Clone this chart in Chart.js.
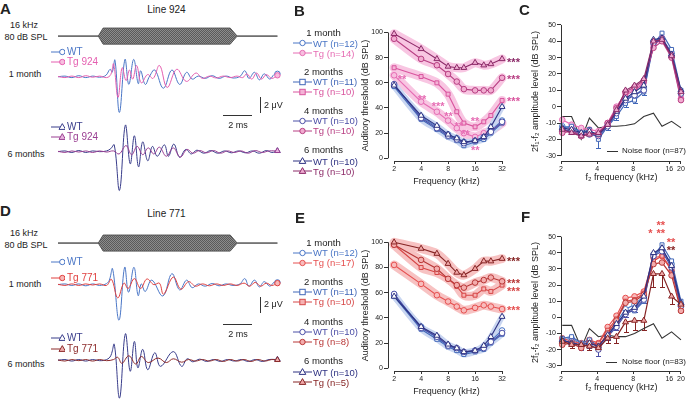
<!DOCTYPE html>
<html lang="en">
<head>
<meta charset="UTF-8">
<title>ABR and DPOAE, lines 924 and 771</title>
<script src="https://cdn.jsdelivr.net/npm/chart.js@4"></script>
<style>
  html, body { margin: 0; padding: 0; background: #fff; }
  body { width: 687px; height: 405px; position: relative; overflow: hidden;
         font-family: "Liberation Sans", Arial, sans-serif; color: #222; }
  canvas { position: absolute; }
  .t { position: absolute; white-space: nowrap; }
  .bar { position: absolute; background: #333; }
</style>
</head>
<body>
<canvas id="waveA" width="237" height="190" style="left:53px;top:15px"></canvas>
<canvas id="waveD" width="237" height="183" style="left:53px;top:222px"></canvas>
<canvas id="thrB" width="175" height="167" style="left:360px;top:20px"></canvas>
<canvas id="thrE" width="175" height="167" style="left:360px;top:230px"></canvas>
<canvas id="dpC" width="157" height="168" style="left:530px;top:15px"></canvas>
<canvas id="dpF" width="157" height="180" style="left:530px;top:213px"></canvas>

<script>
// ---------- data ----------
// ABR waveforms at 16 kHz / 80 dB SPL: [time (ms), amplitude (uV)]
const stimEnvelope = [[0, 0], [2.9, 0], [3.25, 1], [12.4, 1], [12.9, 0], [15.8, 0]];

const wave924_wt1 = [[0,0],[0.5,0.1],[1.0,-0.1],[1.5,0.15],[2.0,-0.1],[2.5,0.1],[3.0,-0.05],[3.45,0.2],[3.75,1.0],[3.9,0.6],[4.1,2.2],[4.42,-4.7],[4.82,2.3],[5.1,-1.0],[5.45,2.3],[5.78,-0.9],[5.95,0.8],[6.28,-1.0],[6.6,0.1],[6.97,0.9],[7.59,-1.5],[8.2,0.9],[8.76,-1.0],[9.26,0.6],[9.66,-0.3],[10.1,0.1],[10.6,-0.2],[11.1,0.15],[11.6,-0.2],[12.1,0.1],[12.6,-0.15],[13.1,0.05],[13.45,0.8],[13.75,-0.2],[14.15,0.6],[14.5,-0.4],[14.85,0.4],[15.25,-0.3],[15.55,0.3],[15.8,0.4]];
const wave924_tg1 = [[0,0.05],[0.5,-0.1],[1.0,0.1],[1.5,-0.1],[2.0,0.15],[2.5,-0.05],[3.0,0.1],[3.5,-0.1],[3.8,0.3],[4.0,1.7],[4.32,-2.7],[4.62,1.2],[4.9,-0.5],[5.15,0.9],[5.38,-0.3],[5.66,1.5],[6.0,-0.8],[6.45,0.3],[6.85,-0.2],[7.31,1.5],[7.86,-1.4],[8.55,1.0],[9.24,-0.6],[9.93,0.5],[10.4,-0.2],[10.9,0.1],[11.4,-0.15],[11.9,0.1],[12.4,-0.1],[12.9,0.1],[13.3,-0.1],[13.6,0.4],[13.95,-0.3],[14.3,0.5],[14.65,-0.3],[15.0,0.3],[15.4,-0.2],[15.8,0.2]];
const wave924_wt6 = [[0,0],[0.5,0.1],[1.0,-0.1],[1.5,0.15],[2.0,-0.1],[2.5,0.1],[3.0,0],[3.5,0.1],[3.8,0.4],[4.05,0.9],[4.43,-5.1],[4.85,3.5],[5.2,-1.6],[5.5,2.1],[5.8,-2.0],[6.1,1.3],[6.46,-1.2],[6.8,0.7],[7.15,-0.6],[7.66,0.9],[7.95,-0.6],[8.34,1.0],[8.76,-0.75],[9.2,0.3],[9.6,-0.3],[10.0,0.2],[10.5,-0.2],[11.0,0.15],[11.5,-0.2],[12.0,0.1],[12.5,-0.15],[13.0,0.1],[13.5,-0.15],[14.0,0.1],[14.5,-0.2],[15.0,0.15],[15.4,-0.1],[15.8,0.1]];
const wave924_tg6 = [[0,0.05],[0.5,-0.1],[1.0,0.1],[1.5,-0.05],[2.0,0.1],[2.5,-0.1],[3.0,0.1],[3.5,-0.05],[4.0,0.1],[4.4,-0.3],[4.9,0.8],[5.3,-0.4],[5.7,0.7],[6.1,-0.4],[6.5,0.5],[6.9,-0.3],[7.3,0.6],[7.8,-0.6],[8.3,0.5],[8.8,-0.7],[9.3,0.3],[9.7,-0.2],[10.2,0.15],[10.7,-0.15],[11.2,0.15],[11.7,-0.2],[12.2,0.1],[12.7,-0.1],[13.2,0.1],[13.7,-0.2],[14.2,0.15],[14.7,-0.1],[15.2,0.1],[15.8,0.1]];

const wave771_wt1 = [[0,0],[0.5,0.1],[1.0,-0.1],[1.5,0.1],[2.0,-0.15],[2.5,0.1],[3.0,-0.1],[3.5,0.15],[3.7,0.6],[3.93,2.1],[4.39,-4.7],[4.8,2.3],[5.08,-1.0],[5.47,2.3],[5.77,-1.45],[6.0,0.1],[6.28,-0.9],[6.75,0.6],[7.55,-1.5],[8.2,1.45],[8.76,-0.7],[9.26,0.6],[9.66,-0.4],[10.1,0.1],[10.6,-0.2],[11.1,0.15],[11.6,-0.15],[12.1,0.1],[12.6,-0.1],[13.1,0.1],[13.45,0.8],[13.75,-0.2],[14.15,0.6],[14.5,-0.3],[14.85,0.4],[15.25,-0.2],[15.55,0.3],[15.8,0.3]];
const wave771_tg1 = [[0,0.05],[0.5,-0.1],[1.0,0.1],[1.5,-0.1],[2.0,0.1],[2.5,-0.05],[3.0,0.1],[3.5,-0.1],[3.85,0.7],[4.3,-1.75],[4.75,0.2],[5.05,-0.5],[5.5,0.8],[5.95,-0.5],[6.4,0.75],[6.9,0],[7.3,0.2],[7.6,-1.25],[8.3,1.0],[8.85,-0.6],[9.4,0.4],[9.9,-0.2],[10.4,0.1],[10.9,-0.15],[11.4,0.1],[11.9,-0.1],[12.4,0.1],[12.9,-0.1],[13.4,0.2],[13.8,-0.2],[14.2,0.3],[14.6,-0.2],[15.0,0.2],[15.4,-0.1],[15.8,0.2]];
const wave771_wt6 = [[0,0],[0.5,0.1],[1.0,-0.1],[1.5,0.1],[2.0,-0.1],[2.5,0.1],[3.0,-0.05],[3.5,0.1],[3.8,0.6],[4.05,2.1],[4.43,-5.0],[4.85,3.5],[5.2,-1.45],[5.5,2.5],[5.75,-1.0],[6.1,1.45],[6.46,-1.25],[6.97,1.0],[7.38,-0.8],[8.3,1.15],[8.9,-0.8],[9.3,0.2],[9.7,-0.2],[10.2,0.15],[10.7,-0.15],[11.2,0.1],[11.7,-0.15],[12.2,0.1],[12.7,-0.1],[13.2,0.1],[13.7,-0.15],[14.2,0.1],[14.7,-0.15],[15.2,0.1],[15.8,0.1]];
const wave771_tg6 = [[0,0.05],[0.5,-0.1],[1.0,0.1],[1.5,-0.05],[2.0,0.1],[2.5,-0.1],[3.0,0.1],[3.5,-0.05],[4.0,0.1],[4.3,0.4],[4.6,-0.4],[5.1,0.6],[5.6,-0.5],[6.0,0.5],[6.5,-0.3],[7.2,0.3],[7.8,-0.3],[8.3,0.2],[8.9,-0.25],[9.4,0.1],[9.9,-0.1],[10.4,0.1],[10.9,-0.1],[11.4,0.1],[11.9,-0.15],[12.4,0.1],[12.9,-0.1],[13.4,0.1],[13.9,-0.15],[14.4,0.1],[14.9,-0.1],[15.4,0.1],[15.8,0.05]];

// ABR thresholds (dB SPL)
const abrFreqs = [2, 4, 6, 8, 10, 12, 16, 20, 24, 32];
const freqTicks = [2, 4, 8, 16, 32];
const thrTicks = [0, 20, 40, 60, 80, 100];

const thr924_wt1 = [58, 33, 25, 19, 16, 13, 14, 16, 22, 30];
const thr924_tg1 = [66, 45, 37, 30, 24, 20, 17, 20, 22, 28];
const thr924_wt2 = [57, 31, 23, 17, 14, 10, 13, 15, 20, 28];
const thr924_tg2 = [72, 65, 60, 51, 37, 28, 25, 29, 34, 46];
const thr924_wt4 = [59, 32, 24, 18, 15, 12, 14, 17, 21, 29];
const thr924_tg4 = [95, 79, 74, 67, 61, 55, 54, 54, 54, 64];
const thr924_wt6 = [58, 34, 26, 19, 16, 13, 14, 17, 25, 41];
const thr924_tg6 = [99, 87, 79, 73, 72, 72, 76, 74, 75, 79];

const thr771_wt1 = [58, 33, 24, 18, 15, 12, 14, 17, 22, 30];
const thr771_tg1 = [82, 67, 58, 53, 49, 46, 48, 50, 49, 47];
const thr771_wt2 = [57, 31, 23, 17, 14, 11, 13, 15, 20, 27];
const thr771_tg2 = [98, 80, 76, 71, 65, 58, 58, 63, 61, 66];
const thr771_wt4 = [59, 32, 25, 18, 16, 13, 14, 16, 21, 28];
const thr771_tg4 = [98, 86, 79, 71, 66, 64, 68, 70, 72, 69];
const thr771_wt6 = [57, 33, 26, 19, 16, 13, 14, 18, 25, 41];
const thr771_tg6 = [100, 95, 91, 83, 76, 74, 79, 85, 85, 87];

// DPOAE 2f1-f2 levels (dB SPL)
const dpFreqs = [2.05, 2.45, 2.95, 3.45, 4.1, 4.9, 5.8, 6.9, 8.2, 9.8, 11.8, 13.9, 16.7, 20];
const dpFreqTicks = [2, 4, 8, 16, 20];
const dpTicks = [-30, -20, -10, 0, 10, 20, 30, 40, 50];

const dp924_wt1 = [-12, -13, -15, -16, -17, -11, -3, 5, 7, 11, 40, 42, 33, 9];
const dp924_tg1 = [-8, -11, -13, -14, -15, -10, 0, 8, 11, 15, 38, 41, 31, 5];
const dp924_wt2 = [-13, -12, -16, -14, -20, -12, -6, 2, 4, 9, 38, 45, 35, 10];
const dp924_tg2 = [-15, -14, -17, -15, -18, -10, -2, 7, 10, 14, 37, 42, 32, 7];
const dp924_wt4 = [-14, -15, -17, -17, -18, -12, -4, 4, 7, 10, 39, 41, 31, 8];
const dp924_tg4 = [-16, -15, -18, -16, -17, -10, -1, 9, 12, 16, 36, 40, 30, 4];
const dp924_wt6 = [-13, -14, -16, -15, -17, -11, -3, 5, 9, 13, 41, 42, 32, 10];
const dp924_tg6 = [-14, -16, -18, -17, -16, -11, -2, 10, 13, 17, 40, 41, 31, 9];
const noise924 = [-6, -6, -20, -7, -13, -12, -12, -11.5, -10.5, -6, -4, -12, -9, -13];
const dp924_wt2Sem = [2, 2, 2, 2, 5, 2, 2, 2, 2, 2, 2, 2, 2, 2];

const dp771_wt1 = [-14, -13, -17, -15, -17, -12, -3, 5, 8, 13, 39, 42, 33, 8];
const dp771_tg1 = [-13, -15, -16, -14, -16, -6, 1, 12, 13, 16, 37, 38, 29, 7];
const dp771_wt2 = [-13, -12, -16, -14, -18, -11, -5, 3, 4, 10, 38, 45, 35, 10];
const dp771_tg2 = [-16, -15, -18, -17, -16, -8, -1, 10, 11, 15, 35, 38, 30, 5];
const dp771_wt4 = [-15, -15, -18, -17, -20, -12, -6, 2, 5, 11, 38, 41, 31, 7];
const dp771_tg4 = [-17, -16, -19, -16, -18, -10, -2, 9, 10, 14, 33, 34, 26, 4];
const dp771_wt6 = [-14, -16, -17, -16, -18, -11, -4, 3, 6, 13, 40, 43, 32, 9];
const dp771_tg6 = [-15, -17, -17, -18, -19, -13, -12, -3, -2, -2, 27, 27, 13, 8];
const noise771 = [-5, -5, -19, -7, -12, -11, -12, -12, -10, -7, -4, -13, -9, -14];
const dp771_tg6Sem = [2, 2, 2, 2, 2, 3, 4, 6, 6, 6, 8, 8, 5, 5];
const dp771_wt4Sem = [2, 2, 2, 2, 4, 2, 2, 2, 2, 2, 2, 2, 2, 3];

// legend labels and significance marks
const ages = ['1 month', '2 months', '4 months', '6 months'];
const legend924 = ['WT (n=12)', 'Tg (n=14)', 'WT (n=11)', 'Tg (n=10)', 'WT (n=10)', 'Tg (n=10)', 'WT (n=10)', 'Tg (n=10)'];
const legend771 = ['WT (n=12)', 'Tg (n=17)', 'WT (n=11)', 'Tg (n=10)', 'WT (n=10)', 'Tg (n=8)', 'WT (n=10)', 'Tg (n=5)'];
const stars924 = [[2.45, 65, '**'], [4.1, 49, '**'], [6.2, 43, '***'], [8.1, 35, '**'], [10.5, 27, '**'], [12.5, 21, '**'], [16, 31, '**'], [16.1, 8, '**']];
const endStars924 = [[78, 7], [64.6, 5], [47, 3]];   // [dB, series]
const endStars771 = [[86.7, 7], [69.3, 5], [63, 3], [47.9, 1]];
const starsF = [[13.6, 58.5, '**', 1], [11.1, 53.5, '*', 1], [13.6, 53.5, '**', 1], [16.5, 48, '**', 1], [16.5, 43, '**', 7]];

// ---------- styles ----------
const FONT = '"Liberation Sans", Arial, sans-serif';
Chart.defaults.font.family = FONT;
Chart.defaults.color = '#222';
Chart.defaults.animation = false;

const wtStyle = [
  { c: '#4a76c6', m: 'circle' }, { c: '#4167b8', m: 'rect' },
  { c: '#4b4ea6', m: 'circle' }, { c: '#2e3282', m: 'triangle' }
];
const tg924Style = [
  { c: '#e66db4', f: '#f7bfdf', m: 'circle' }, { c: '#d9549e', f: '#f4b3d6', m: 'rect' },
  { c: '#b83f83', f: '#f1acd0', m: 'circle' }, { c: '#8c2a68', f: '#eeaad0', m: 'triangle' }
];
const tg771Style = [
  { c: '#e65050', f: '#f8bcbc', m: 'circle' }, { c: '#d64646', f: '#f6b2b2', m: 'rect' },
  { c: '#b83636', f: '#f3acac', m: 'circle' }, { c: '#862424', f: '#f1a8a8', m: 'triangle' }
];
function interleave(tg) {
  const out = [];
  for (let g = 0; g < 4; g++) { out.push(wtStyle[g], tg[g]); }
  return out;
}
const styles924 = interleave(tg924Style);
const styles771 = interleave(tg771Style);

// ---------- helpers ----------
function addText(html, x, y, o = {}) {
  const d = document.createElement('div');
  const size = o.size || 10;
  d.className = 't';
  d.style.fontSize = size + 'px';
  d.style.lineHeight = size + 'px';
  d.style.left = x + 'px';
  d.style.top = (y - size / 2) + 'px';
  if (o.align === 'center') d.style.transform = 'translateX(-50%)';
  if (o.bold) d.style.fontWeight = 'bold';
  if (o.color) d.style.color = o.color;
  if (o.flex) { d.style.display = 'flex'; d.style.alignItems = 'center'; d.style.gap = (o.gap || 1) + 'px'; }
  d.innerHTML = html;
  document.body.appendChild(d);
}
function addBar(x, y, w, h) {
  const d = document.createElement('div');
  d.className = 'bar';
  Object.assign(d.style, { left: x + 'px', top: y + 'px', width: w + 'px', height: h + 'px' });
  document.body.appendChild(d);
}
function svgMarker(m, x, y, stroke, fill) {
  if (m === 'circle') return `<circle cx="${x}" cy="${y}" r="2.7" fill="${fill}" stroke="${stroke}"/>`;
  if (m === 'rect') return `<rect x="${x - 2.7}" y="${y - 2.7}" width="5.4" height="5.4" fill="${fill}" stroke="${stroke}"/>`;
  return `<polygon points="${x},${y - 3.4} ${x + 3.3},${y + 2.4} ${x - 3.3},${y + 2.4}" fill="${fill}" stroke="${stroke}"/>`;
}
function swatch(w, mx, st, lineEnd) {
  return `<svg width="${w}" height="10" style="display:block">` +
    `<line x1="0" y1="5" x2="${lineEnd || w}" y2="5" stroke="${st.c}" stroke-width="1"/>` +
    svgMarker(st.m, mx, 5, st.c, st.f || '#fff') + '</svg>';
}

// offset axis lines, error bars and significance stars (one plugin per chart)
function makeMarks(extra) {
  return {
    id: 'marks',
    beforeDatasetsDraw(chart) {
      const { ctx, scales: { x, y } } = chart;
      ctx.save();
      ctx.lineWidth = 1;
      chart.data.datasets.forEach(ds => {
        if (!ds.errs) return;
        ctx.strokeStyle = ds.borderColor;
        ds.data.forEach((p, k) => {
          const e = ds.errs[k];
          if (!e) return;
          const px = Math.round(x.getPixelForValue(p.x)) + 0.5;
          const y1 = Math.round(y.getPixelForValue(p.y - e)) + 0.5;
          ctx.beginPath();
          ctx.moveTo(px, y.getPixelForValue(p.y));
          ctx.lineTo(px, y1);
          ctx.moveTo(px - 2.5, y1);
          ctx.lineTo(px + 2.5, y1);
          ctx.stroke();
        });
      });
      ctx.restore();
    },
    afterDraw(chart) {
      const { ctx, chartArea: a, scales: { x, y } } = chart;
      const xt = x.ticks, yt = y.ticks;
      ctx.save();
      ctx.strokeStyle = '#333';
      ctx.lineWidth = 1;
      const lx = Math.round(a.left) + 0.5, by = Math.round(a.bottom) + 0.5;
      ctx.beginPath();
      ctx.moveTo(lx, y.getPixelForValue(yt[0].value));
      ctx.lineTo(lx, y.getPixelForValue(yt[yt.length - 1].value));
      ctx.moveTo(x.getPixelForValue(xt[0].value), by);
      ctx.lineTo(x.getPixelForValue(xt[xt.length - 1].value), by);
      ctx.stroke();
      ctx.font = 'bold 11px ' + FONT;
      ctx.textBaseline = 'alphabetic';
      ctx.textAlign = 'center';
      (extra.stars || []).forEach(([f, v, t, c]) => {
        ctx.fillStyle = c;
        ctx.fillText(t, x.getPixelForValue(f), y.getPixelForValue(v) + 6);
      });
      ctx.textAlign = 'left';
      (extra.endStars || []).forEach(([v, c]) => {
        ctx.fillStyle = c;
        ctx.fillText('***', x.getPixelForValue(extra.endAt) + 5, y.getPixelForValue(v) + 6);
      });
      ctx.restore();
    }
  };
}

function axisOpts(o) {
  return {
    type: o.type || 'linear', min: o.min, max: o.max,
    afterBuildTicks: s => { s.ticks = o.ticks.map(v => ({ value: v })); },
    ticks: { callback: v => String(v), font: { size: 7 }, padding: 1, autoSkip: false, maxRotation: 0, color: '#222' },
    grid: { display: true, drawOnChartArea: false, drawTicks: true, tickLength: o.tick, color: '#333' },
    border: { display: false },
    title: { display: true, text: o.title, font: { size: 9 }, padding: 0, color: '#222' },
    afterFit: s => {
      if (o.width) s.width = o.width;
      if (o.height) s.height = o.height;
      s.paddingLeft = s.paddingRight = s.paddingTop = s.paddingBottom = 0;
    }
  };
}
function baseOptions(padTop, padRight, scales) {
  return {
    responsive: false, devicePixelRatio: 1, animation: false, events: [],
    layout: { padding: { top: padTop, right: padRight, left: 0, bottom: 0 } },
    plugins: { legend: { display: false }, tooltip: { enabled: false } },
    scales
  };
}

// ---------- waveform panels (A, D) ----------
function waveChart(id, offsets, traces) {
  const cv = document.getElementById(id);
  const pc = document.createElement('canvas');
  pc.width = 2; pc.height = 2;
  const p = pc.getContext('2d');
  p.fillStyle = '#5a5a5a'; p.fillRect(0, 0, 2, 2);
  p.fillStyle = '#8c8c8c'; p.fillRect(0, 0, 1, 1); p.fillRect(1, 1, 1, 1);
  const pattern = cv.getContext('2d').createPattern(pc, 'repeat');

  const amp = 1.06;
  const datasets = [
    { data: stimEnvelope.map(([t, a]) => ({ x: t, y: offsets.stim + a * amp })), borderColor: '#555', borderWidth: 1, pointRadius: 0, tension: 0 },
    { data: stimEnvelope.map(([t, a]) => ({ x: t, y: offsets.stim - a * amp })), borderColor: '#555', borderWidth: 1, pointRadius: 0, tension: 0, fill: '-1', backgroundColor: pattern }
  ];
  traces.forEach(tr => {
    const last = tr.data.length - 1;
    datasets.push({
      data: tr.data.map(([t, v]) => ({ x: t, y: offsets[tr.row] + v })),
      borderColor: tr.st.c, borderWidth: 1, tension: 0.4, clip: false,
      pointStyle: tr.st.m, pointRadius: c => (c.dataIndex === last ? (tr.st.m === 'triangle' ? 3.2 : 2.7) : 0),
      pointBackgroundColor: tr.st.f || '#fff', pointBorderColor: tr.st.c, pointBorderWidth: 1
    });
  });
  new Chart(cv, {
    type: 'line',
    data: { datasets },
    options: {
      responsive: false, devicePixelRatio: 1, animation: false, events: [],
      layout: { padding: 0 },
      plugins: { legend: { display: false }, tooltip: { enabled: false } },
      scales: {
        x: { type: 'linear', display: false, min: 0, max: cv.width / 14.5 },
        y: { type: 'linear', display: false, min: -cv.height / 8, max: 0 }
      }
    }
  });
}

const waveA = {
  wt1: { c: '#4a76c6', m: 'circle' }, tg1: { c: '#e55fb0', f: '#f7bfdf', m: 'circle' },
  wt6: { c: '#383c8a', m: 'triangle' }, tg6: { c: '#9a3f92', f: '#e9b6e0', m: 'triangle' }
};
const waveD = {
  wt1: { c: '#4a76c6', m: 'circle' }, tg1: { c: '#e0403f', f: '#f7b8b8', m: 'circle' },
  wt6: { c: '#383c8a', m: 'triangle' }, tg6: { c: '#8c2b2b', f: '#efb0b0', m: 'triangle' }
};

waveChart('waveA', { stim: -2.125, m1: -7.5, m6: -17.375 }, [
  { data: wave924_tg6, row: 'm6', st: waveA.tg6 },
  { data: wave924_wt6, row: 'm6', st: waveA.wt6 },
  { data: wave924_tg1, row: 'm1', st: waveA.tg1 },
  { data: wave924_wt1, row: 'm1', st: waveA.wt1 }
]);
waveChart('waveD', { stim: -2.125, m1: -7.625, m6: -17.625 }, [
  { data: wave771_tg6, row: 'm6', st: waveD.tg6 },
  { data: wave771_wt6, row: 'm6', st: waveD.wt6 },
  { data: wave771_tg1, row: 'm1', st: waveD.tg1 },
  { data: wave771_wt1, row: 'm1', st: waveD.wt1 }
]);

function waveLabels(dy, line, st, tgName) {
  addText('<b>' + (dy ? 'D' : 'A') + '</b>', 0, 8.5 + dy * 0.97, { size: 15 });
  addText(line, 166.5, 10 + dy * 0.98, { size: 10, align: 'center' });
  addText('16 kHz', 24, 25 + dy, { size: 9, align: 'center' });
  addText('80 dB SPL', 26, 37 + dy, { size: 9, align: 'center' });
  addText('1 month', 25, 74.5 + dy * 1.01, { size: 9, align: 'center' });
  addText('6 months', 26, 154 + dy * 1.01, { size: 9, align: 'center' });
  addText(swatch(14, 11.3, st.wt1, 11) + `<span style="color:${st.wt1.c}">WT</span>`, 51, 51.7 + dy * 1.01, { size: 10, flex: true, gap: 2 });
  addText(swatch(14, 11.3, st.tg1, 11) + `<span style="color:${st.tg1.c}">${tgName}</span>`, 51, 61.9 + dy * 1.04, { size: 10, flex: true, gap: 2 });
  addText(swatch(14, 11.3, st.wt6, 11) + `<span style="color:${st.wt6.c}">WT</span>`, 51, 126.7 + dy * 1.015, { size: 10, flex: true, gap: 2 });
  addText(swatch(14, 11.3, st.tg6, 11) + `<span style="color:${st.tg6.c}">${tgName}</span>`, 51, 136.7 + dy * 1.02, { size: 10, flex: true, gap: 2 });
  addText('2 ms', 238, 125 + dy * 1.005, { size: 9, align: 'center' });
  addText('2 μV', 264, 105 + dy * 0.96, { size: 9 });
}
waveLabels(0, 'Line 924', waveA, 'Tg 924');
waveLabels(208, 'Line 771', waveD, 'Tg 771');
addBar(223, 115, 29, 1); addBar(260, 97, 1, 16);
addBar(223, 324, 29, 1); addBar(260, 297, 1, 16);

// ---------- ABR threshold panels (B, E) ----------
function thresholdChart(id, series, styles, tgBand, yMin, yMax, stars, endStars) {
  const datasets = [];
  series.forEach((vals, i) => {
    const st = styles[i];
    const isTg = i % 2 === 1;
    const pts = abrFreqs.map((f, k) => ({ x: f, y: vals[k] }));
    datasets.push({ data: pts, borderColor: isTg ? tgBand : '#c9d6f1', borderWidth: isTg ? 9 : 6,
      pointRadius: 0, tension: 0.3, order: 30 - i, borderCapStyle: 'round', borderJoinStyle: 'round', clip: false });
    datasets.push({ data: pts, borderColor: st.c, borderWidth: 1.1, tension: 0, order: 10 - i, clip: false,
      pointStyle: st.m, pointRadius: st.m === 'triangle' ? 3.4 : 2.8,
      pointBackgroundColor: st.f || '#fff', pointBorderColor: st.c, pointBorderWidth: 1 });
  });
  new Chart(document.getElementById(id), {
    type: 'line',
    data: { datasets },
    options: baseOptions(10, 30, {
      x: axisOpts({ type: 'logarithmic', min: 1.71, max: 34.5, ticks: freqTicks, tick: 3, title: 'Frequency (kHz)', height: 26 }),
      y: axisOpts({ min: yMin, max: yMax, ticks: thrTicks, tick: 4, title: 'Auditory threshold (dB SPL)', width: 28 })
    }),
    plugins: [makeMarks({
      stars: stars.map(([f, v, t]) => [f, v, t, styles[1].c]),
      endStars: endStars.map(([v, s]) => [v, styles[s].c]),
      endAt: 32
    })]
  });
}
thresholdChart('thrB', [thr924_wt1, thr924_tg1, thr924_wt2, thr924_tg2, thr924_wt4, thr924_tg4, thr924_wt6, thr924_tg6],
  styles924, '#f8c6e2', -2.15, 102, stars924, endStars924);
thresholdChart('thrE', [thr771_wt1, thr771_tg1, thr771_wt2, thr771_tg2, thr771_wt4, thr771_tg4, thr771_wt6, thr771_tg6],
  styles771, '#f7c2c2', -2.14, 101.8, [], endStars771);

function thresholdLegend(tops, labels, styles) {
  ages.forEach((age, g) => {
    addText(age, 323.5, tops[g], { size: 9.5, align: 'center' });
    [0, 1].forEach(j => {
      const i = g * 2 + j, st = styles[i];
      addText(swatch(19, 9.5, st) + `<span style="color:${st.c}">${labels[i]}</span>`,
        293, tops[g] + 10 * (j + 1) + (g === 3 ? 1 : 0), { size: 9.5, flex: true });
    });
  });
}
thresholdLegend([33, 71.7, 110.7, 150], legend924, styles924);
thresholdLegend([242.7, 281.7, 321.7, 361], legend771, styles771);
addText('<b>B</b>', 294, 10, { size: 15 });
addText('<b>E</b>', 295, 217, { size: 15 });

// ---------- DPOAE panels (C, F) ----------
function dpChart(id, series, styles, noise, sems, padTop, yMin, yMax, stars) {
  const datasets = [{
    data: dpFreqs.map((f, k) => ({ x: f, y: noise[k] })),
    borderColor: '#333', borderWidth: 1.1, pointRadius: 0, tension: 0, order: 50
  }];
  series.forEach((vals, i) => {
    const st = styles[i];
    datasets.push({
      data: dpFreqs.map((f, k) => ({ x: f, y: vals[k] })),
      errs: sems[i], borderColor: st.c, borderWidth: 1.2, tension: 0, order: 10 - i, clip: false,
      pointStyle: st.m, pointRadius: st.m === 'triangle' ? 3.4 : 2.8,
      pointBackgroundColor: st.f || '#fff', pointBorderColor: st.c, pointBorderWidth: 1
    });
  });
  new Chart(document.getElementById(id), {
    type: 'line',
    data: { datasets },
    options: baseOptions(padTop, 3.4, {
      x: axisOpts({ type: 'logarithmic', min: 2, max: 20.4, ticks: dpFreqTicks, tick: 3, title: 'f\u2082 frequency (kHz)', height: 22 }),
      y: axisOpts({ min: yMin, max: yMax, ticks: dpTicks, tick: 4, title: '2f\u2081-f\u2082 amplitude level (dB SPL)', width: 31 })
    }),
    plugins: [makeMarks({ stars: stars.map(([f, v, t, s]) => [f, v, t, styles[s].c]) })]
  });
}
dpChart('dpC', [dp924_wt1, dp924_tg1, dp924_wt2, dp924_tg2, dp924_wt4, dp924_tg4, dp924_wt6, dp924_tg6],
  styles924, noise924, [null, null, dp924_wt2Sem, null, null, null, null, null], 7, -33.24, 51.8, []);
dpChart('dpF', [dp771_wt1, dp771_tg1, dp771_wt2, dp771_tg2, dp771_wt4, dp771_tg4, dp771_wt6, dp771_tg6],
  styles771, noise771, [null, null, null, null, dp771_wt4Sem, null, null, dp771_tg6Sem], 21, -33.3, 51.7, starsF);

addText('<b>C</b>', 519, 9, { size: 15 });
addText('<b>F</b>', 521, 216, { size: 15 });
addBar(607, 151, 11, 1);
addText('Noise floor (n=87)', 622, 151, { size: 8 });
addBar(606, 362, 11, 1);
addText('Noise floor (n=83)', 622, 362, { size: 8 });
</script>
</body>
</html>
